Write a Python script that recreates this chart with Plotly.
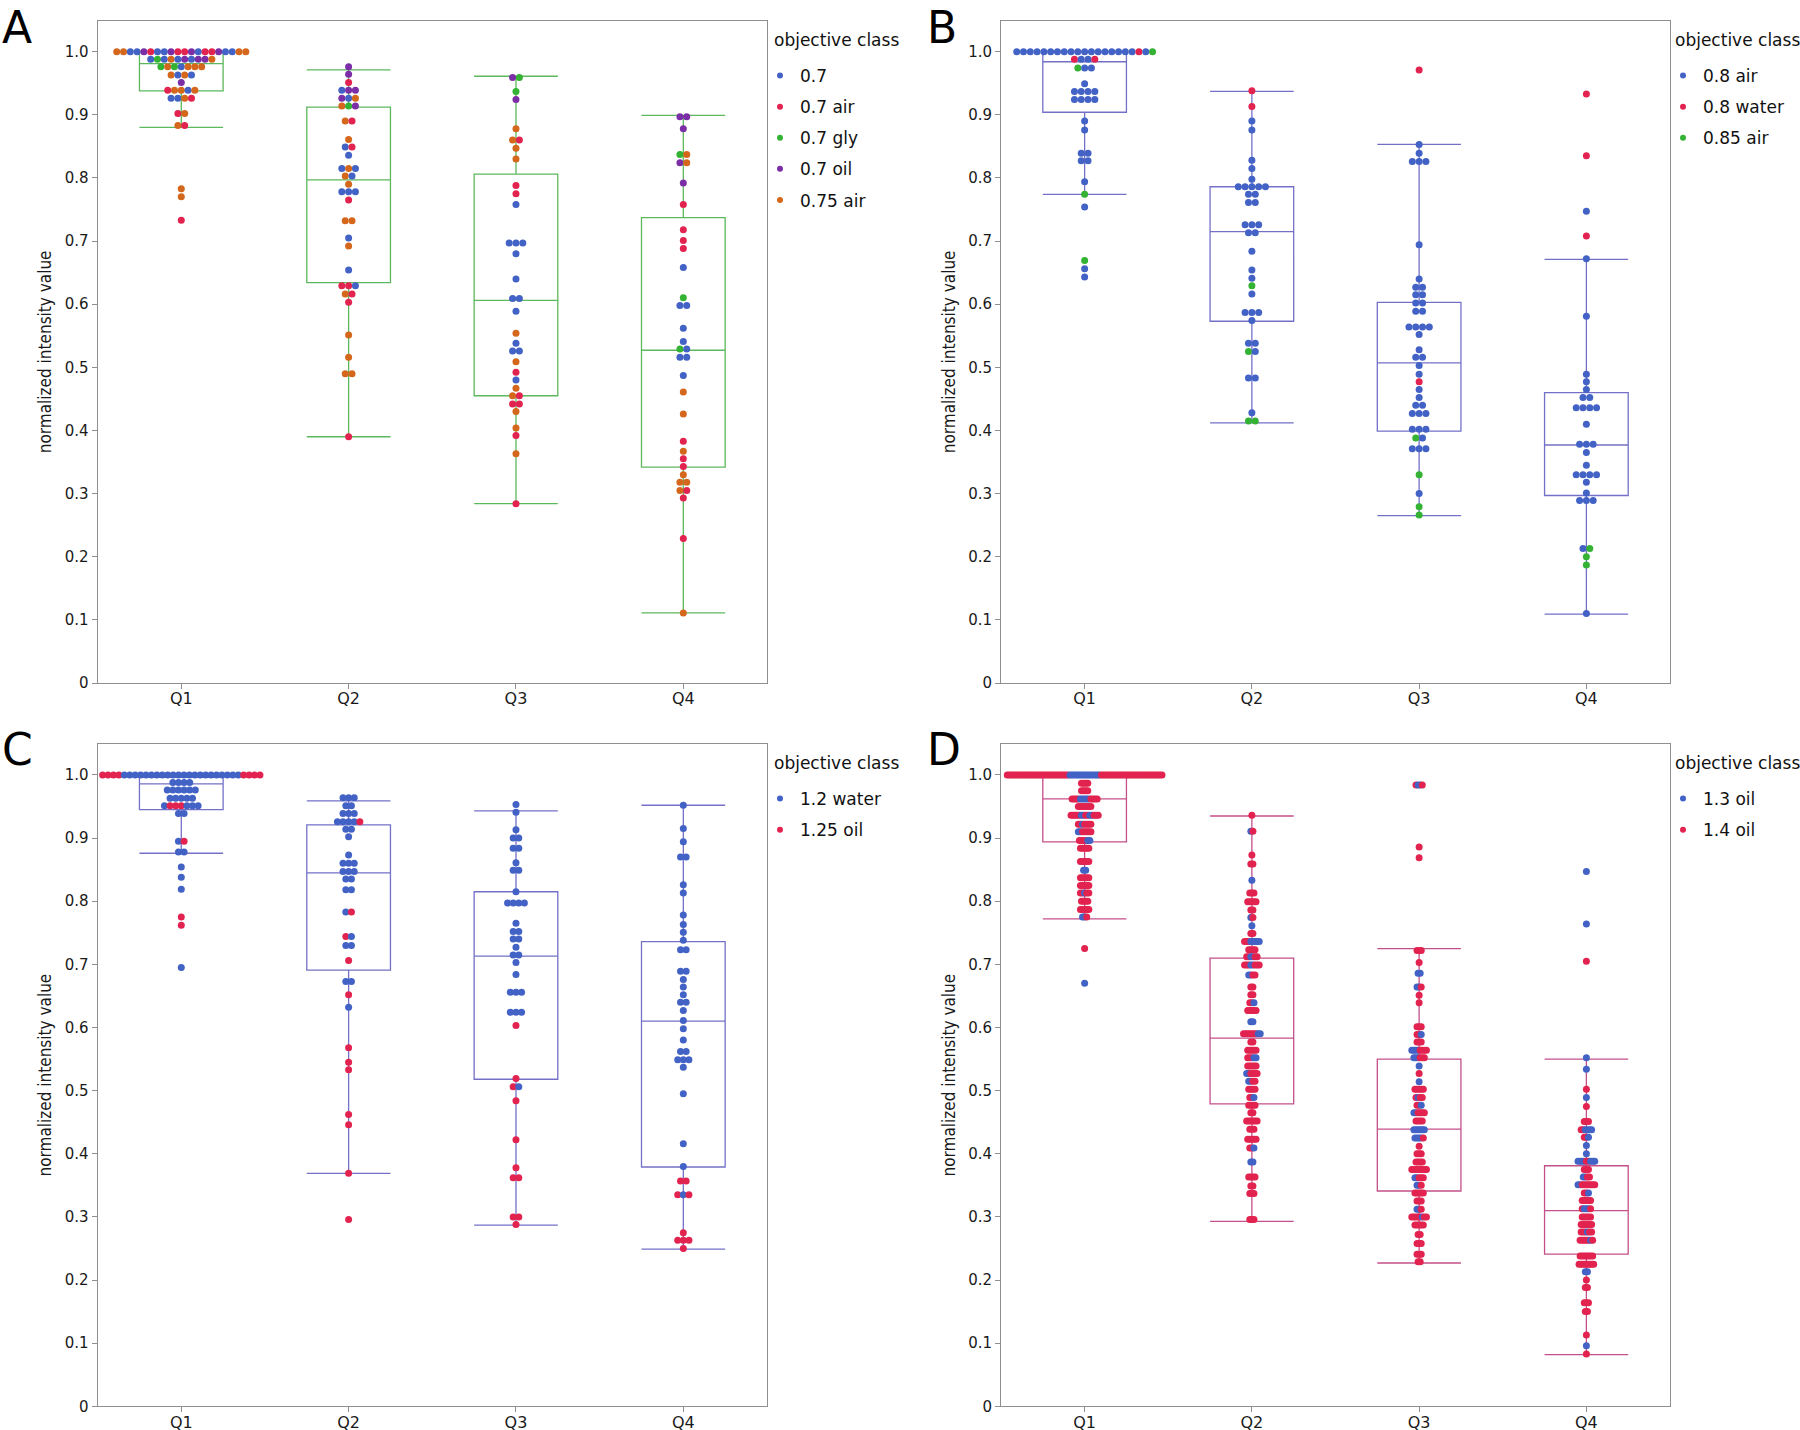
import plotly.graph_objects as go

# ---------------- data ----------------
QUARTILES = ["Q1", "Q2", "Q3", "Q4"]
Y_TICKS = [0.0, 0.1, 0.2, 0.3, 0.4, 0.5, 0.6, 0.7, 0.8, 0.9, 1.0]
Y_TICK_TEXT = ["0", "0.1", "0.2", "0.3", "0.4", "0.5", "0.6", "0.7", "0.8", "0.9", "1.0"]

COLORS = {"B": "#4262c5", "R": "#e2234f", "G": "#33b233", "P": "#7c2ea6", "O": "#d4671c"}

A_CLASSES = [("B", "0.7"), ("R", "0.7 air"), ("G", "0.7 gly"), ("P", "0.7 oil"), ("O", "0.75 air")]
B_CLASSES = [("B", "0.8 air"), ("R", "0.8 water"), ("G", "0.85 air")]
C_CLASSES = [("B", "1.2 water"), ("R", "1.25 oil")]
D_CLASSES = [("B", "1.3 oil"), ("R", "1.4 oil")]

# rows: (value, class codes of the dots sharing that value)
A_Q1_ROWS = [(1.000, "OOBBPRBBPRRPBRRPBBOO"), (0.988, "BGBOBPBPPO"), (0.976, "GOGBOOO"),
             (0.963, "OBOB"), (0.951, "P"), (0.939, "ROOBO"), (0.926, "BBOR"), (0.902, "RO"),
             (0.883, "OR"), (0.783, "O"), (0.770, "O"), (0.733, "R")]
A_Q2_ROWS = [(0.976, "P"), (0.964, "P"), (0.951, "R"), (0.939, "BPP"), (0.926, "PBO"), (0.914, "OGP"),
             (0.890, "OR"), (0.861, "O"), (0.849, "BR"), (0.836, "B"), (0.815, "BOB"), (0.803, "OB"),
             (0.790, "O"), (0.778, "BBB"), (0.765, "R"), (0.732, "OO"), (0.705, "B"), (0.692, "O"),
             (0.654, "B"), (0.629, "RRB"), (0.616, "OR"), (0.603, "R"), (0.551, "O"), (0.516, "O"),
             (0.490, "OO"), (0.390, "R")]
A_Q3_ROWS = [(0.959, "PG"), (0.937, "G"), (0.924, "P"), (0.878, "O"), (0.860, "OR"), (0.847, "O"),
             (0.830, "O"), (0.788, "R"), (0.775, "R"), (0.758, "B"), (0.697, "BBB"), (0.680, "B"),
             (0.640, "B"), (0.609, "BB"), (0.589, "B"), (0.554, "O"), (0.538, "B"), (0.526, "BB"),
             (0.509, "O"), (0.492, "R"), (0.480, "B"), (0.467, "O"), (0.455, "OR"), (0.442, "RR"),
             (0.430, "O"), (0.404, "O"), (0.392, "R"), (0.363, "O"), (0.284, "R")]
A_Q4_ROWS = [(0.897, "PP"), (0.878, "P"), (0.837, "GO"), (0.824, "PO"), (0.792, "P"), (0.758, "R"),
             (0.718, "R"), (0.701, "R"), (0.688, "R"), (0.658, "B"), (0.610, "G"), (0.598, "BB"),
             (0.562, "B"), (0.541, "B"), (0.529, "GB"), (0.516, "BB"), (0.487, "B"), (0.461, "O"),
             (0.426, "O"), (0.383, "R"), (0.367, "O"), (0.355, "R"), (0.343, "R"), (0.330, "O"),
             (0.318, "OO"), (0.305, "OR"), (0.293, "R"), (0.229, "R"), (0.111, "O")]
A_BOX_LO = [0.880, 0.390, 0.284, 0.111]
A_BOX_Q1 = [0.938, 0.634, 0.455, 0.342]
A_BOX_MED = [0.981, 0.797, 0.606, 0.527]
A_BOX_Q3 = [1.000, 0.912, 0.806, 0.737]
A_BOX_HI = [1.000, 0.971, 0.961, 0.899]

B_Q1_ROWS = [(1.000, "BBBBBBBBBBBBBBBBBBRBG"), (0.988, "RBBR"), (0.974, "GBB"), (0.949, "B"),
             (0.937, "BBBB"), (0.924, "BBBB"), (0.890, "B"), (0.876, "B"), (0.839, "BB"),
             (0.827, "BB"), (0.794, "B"), (0.774, "G"), (0.754, "B"), (0.669, "G"), (0.656, "B"),
             (0.643, "B")]
B_Q2_ROWS = [(0.938, "R"), (0.913, "R"), (0.890, "B"), (0.876, "B"), (0.828, "B"), (0.815, "B"),
             (0.798, "B"), (0.786, "BBBBB"), (0.774, "BB"), (0.761, "BB"), (0.726, "BBB"), (0.713, "BB"),
             (0.684, "B"), (0.654, "B"), (0.641, "B"), (0.629, "G"), (0.616, "B"), (0.587, "BBB"),
             (0.574, "B"), (0.538, "BB"), (0.525, "GB"), (0.483, "BB"), (0.428, "B"), (0.415, "GG")]
B_Q3_ROWS = [(0.971, "R"), (0.853, "B"), (0.839, "B"), (0.826, "BBB"), (0.694, "B"), (0.640, "B"),
             (0.627, "BB"), (0.615, "BB"), (0.602, "BB"), (0.589, "BB"), (0.564, "BBBB"), (0.552, "B"),
             (0.528, "B"), (0.516, "BB"), (0.503, "B"), (0.489, "B"), (0.477, "R"), (0.465, "B"),
             (0.452, "B"), (0.440, "BB"), (0.427, "BBB"), (0.402, "BBB"), (0.388, "GB"), (0.371, "BBB"),
             (0.330, "G"), (0.300, "B"), (0.279, "G"), (0.266, "G")]
B_Q4_ROWS = [(0.933, "R"), (0.835, "R"), (0.747, "B"), (0.708, "R"), (0.672, "B"), (0.581, "B"),
             (0.489, "B"), (0.477, "B"), (0.465, "B"), (0.452, "BB"), (0.436, "BBBB"), (0.410, "B"),
             (0.378, "BBB"), (0.365, "B"), (0.345, "B"), (0.330, "BBBB"), (0.318, "B"), (0.301, "B"),
             (0.289, "BBB"), (0.213, "BG"), (0.200, "G"), (0.187, "G"), (0.110, "B")]
B_BOX_LO = [0.774, 0.412, 0.265, 0.109]
B_BOX_Q1 = [0.904, 0.573, 0.399, 0.297]
B_BOX_MED = [0.984, 0.715, 0.507, 0.377]
B_BOX_Q3 = [1.000, 0.786, 0.603, 0.460]
B_BOX_HI = [1.000, 0.937, 0.853, 0.671]

C_Q1_ROWS = [(1.000, "RRRRBBBBBBBBBBBBBBBBBBBBBBRRRR"), (0.988, "BBBB"), (0.976, "BBBBBB"),
             (0.963, "BBBBB"), (0.951, "BRRRBBB"), (0.939, "BB"), (0.895, "BR"), (0.878, "BB"),
             (0.854, "B"), (0.838, "B"), (0.819, "B"), (0.775, "R"), (0.762, "R"), (0.695, "B")]
C_Q2_ROWS = [(0.964, "BBB"), (0.951, "BB"), (0.939, "BBB"), (0.926, "BBBBR"), (0.914, "BB"),
             (0.902, "B"), (0.873, "B"), (0.860, "BBB"), (0.847, "BBB"), (0.835, "BB"), (0.818, "BB"),
             (0.783, "BR"), (0.744, "RB"), (0.730, "BB"), (0.706, "R"), (0.673, "BB"), (0.652, "R"),
             (0.632, "B"), (0.568, "R"), (0.545, "R"), (0.533, "R"), (0.462, "R"), (0.446, "R"),
             (0.369, "R"), (0.296, "R")]
C_Q3_ROWS = [(0.953, "B"), (0.941, "B"), (0.913, "B"), (0.900, "BB"), (0.884, "BB"), (0.861, "B"),
             (0.849, "BB"), (0.815, "B"), (0.797, "BBBB"), (0.765, "B"), (0.752, "BB"), (0.740, "BB"),
             (0.727, "B"), (0.715, "BB"), (0.703, "B"), (0.684, "B"), (0.656, "BBB"), (0.624, "BBB"),
             (0.603, "R"), (0.519, "R"), (0.506, "RB"), (0.484, "R"), (0.422, "R"), (0.378, "R"),
             (0.362, "RR"), (0.300, "RR"), (0.288, "R")]
C_Q4_ROWS = [(0.952, "B"), (0.915, "B"), (0.894, "B"), (0.870, "BB"), (0.826, "B"), (0.813, "B"),
             (0.778, "B"), (0.763, "B"), (0.751, "B"), (0.738, "B"), (0.723, "BB"), (0.689, "BB"),
             (0.676, "B"), (0.664, "B"), (0.652, "B"), (0.640, "BB"), (0.627, "B"), (0.611, "B"),
             (0.598, "B"), (0.580, "B"), (0.562, "BB"), (0.549, "BBB"), (0.537, "B"), (0.495, "B"),
             (0.416, "B"), (0.380, "B"), (0.357, "RR"), (0.335, "RBR"), (0.275, "R"), (0.263, "RRR"),
             (0.250, "R")]
C_BOX_LO = [0.876, 0.369, 0.287, 0.249]
C_BOX_Q1 = [0.945, 0.691, 0.518, 0.379]
C_BOX_MED = [0.986, 0.845, 0.713, 0.610]
C_BOX_Q3 = [0.996, 0.921, 0.815, 0.736]
C_BOX_HI = [1.000, 0.959, 0.943, 0.952]

D_Q1_ROWS = [(1.000, "RRRRRRRRRRRRRRRRRRRRRRRRRRRRRRBBBBBBBBBBBBBBBRRRRRRRRRRRRRRRRRRRRRRRRRRRRRR"),
             (0.987, "RRRR"), (0.975, "RRRR"), (0.962, "RRRRBBBBBRRRR"), (0.950, "RRRRRRR"),
             (0.936, "RRRRRBBRRBBRRR"), (0.922, "RRBRRRR"), (0.910, "BBRRRRR"), (0.896, "RRRRBB"),
             (0.884, "RRRRR"), (0.863, "RRRRR"), (0.849, "BB"), (0.837, "RRRRR"), (0.825, "RRRRR"),
             (0.813, "RRBRR"), (0.800, "RRRR"), (0.787, "RRRRR"), (0.775, "BBR"), (0.725, "R"),
             (0.670, "B")]
D_Q2_ROWS = [(0.936, "R"), (0.911, "BR"), (0.873, "R"), (0.859, "RR"), (0.833, "B"), (0.813, "RRR"),
             (0.799, "RRRRR"), (0.786, "RR"), (0.774, "BR"), (0.761, "B"), (0.749, "RR"),
             (0.736, "RRRBBBBB"), (0.723, "RRRR"), (0.712, "RRBBRR"), (0.699, "RRRBBRRR"),
             (0.683, "BBRR"), (0.664, "RR"), (0.652, "RR"), (0.639, "RRB"), (0.627, "RRRRR"),
             (0.609, "BB"), (0.590, "RRRRRRRBB"), (0.577, "RR"), (0.564, "RRRRR"), (0.552, "RRRBB"),
             (0.539, "RRRRR"), (0.527, "BBRRRR"), (0.515, "BBRR"), (0.502, "RRRR"), (0.489, "RRB"),
             (0.477, "RRRR"), (0.465, "RR"), (0.452, "RRRRRR"), (0.439, "RRR"), (0.423, "RRRRR"),
             (0.409, "RRB"), (0.387, "BB"), (0.363, "RRRR"), (0.349, "RR"), (0.337, "RRR"),
             (0.296, "RRR")]
D_Q3_ROWS = [(0.984, "RBBR"), (0.886, "R"), (0.869, "R"), (0.722, "RRR"), (0.703, "R"), (0.686, "BB"),
             (0.664, "BBR"), (0.651, "R"), (0.639, "R"), (0.601, "RRR"), (0.589, "RRB"), (0.577, "RRR"),
             (0.564, "BBBBRRRR"), (0.552, "BBBRRR"), (0.539, "B"), (0.527, "R"), (0.514, "B"),
             (0.502, "RRRRR"), (0.489, "RBRR"), (0.477, "RRB"), (0.465, "BBRRRR"), (0.452, "RRRR"),
             (0.438, "BBBBBB"), (0.425, "BBBBR"), (0.412, "R"), (0.400, "RRR"), (0.387, "RRRR"),
             (0.375, "RRRRRRRR"), (0.362, "BBRRR"), (0.350, "BBR"), (0.338, "RRRRR"), (0.325, "RRR"),
             (0.312, "BBR"), (0.300, "RRRRRBRR"), (0.287, "RRRRR"), (0.272, "RR"), (0.258, "RRR"),
             (0.241, "RRR"), (0.229, "RR")]
D_Q4_ROWS = [(0.847, "B"), (0.764, "B"), (0.705, "R"), (0.552, "B"), (0.534, "B"), (0.502, "R"),
             (0.489, "B"), (0.475, "R"), (0.451, "RRR"), (0.438, "RRBBBB"), (0.426, "RRB"), (0.413, "B"),
             (0.400, "B"), (0.388, "BBBBRRBBB"), (0.375, "RRR"), (0.363, "BBRR"), (0.351, "BBRRRRRRR"),
             (0.338, "RRB"), (0.326, "RRRRR"), (0.313, "RBBBR"), (0.300, "RRRRR"), (0.288, "RRRRRR"),
             (0.276, "RRRBRR"), (0.263, "RRRRRBR"), (0.238, "RRRRRRR"), (0.225, "RRRRRRRR"),
             (0.213, "BB"), (0.200, "R"), (0.188, "RR"), (0.164, "RRR"), (0.150, "RR"), (0.113, "R"),
             (0.096, "B"), (0.083, "R")]
D_BOX_LO = [0.772, 0.293, 0.227, 0.082]
D_BOX_Q1 = [0.894, 0.479, 0.341, 0.241]
D_BOX_MED = [0.962, 0.583, 0.439, 0.310]
D_BOX_Q3 = [1.000, 0.710, 0.550, 0.381]
D_BOX_HI = [1.000, 0.935, 0.725, 0.550]

# ---------------- styling ----------------
W, H = 1800, 1430
GRAY = "#8f8f8f"
TICK_FONT = dict(family="DejaVu Sans", size=15, color="#1a1a1a")
TITLE_FONT = dict(family="DejaVu Sans Condensed, Liberation Sans Narrow, DejaVu Sans", size=17, color="#1a1a1a")
LEGEND_FONT = dict(family="DejaVu Sans", size=17, color="#111111")
MARKER_SIZE = 7
MAX_HALF = 0.47


def px_x(p):
    return p / W


def px_y(p):
    return 1 - p / H


PANELS = [
    dict(letter="A", rows=[A_Q1_ROWS, A_Q2_ROWS, A_Q3_ROWS, A_Q4_ROWS],
         box=(A_BOX_LO, A_BOX_Q1, A_BOX_MED, A_BOX_Q3, A_BOX_HI), box_color="#5cb85c",
         classes=A_CLASSES, spacing=0.0406,
         xd=[px_x(97.6), px_x(767)], yd=[px_y(683), px_y(20.7)],
         leg=(px_x(760), px_y(58)), ltitle=(px_x(772), px_y(40)), let=(px_x(0), px_y(0))),
    dict(letter="B", rows=[B_Q1_ROWS, B_Q2_ROWS, B_Q3_ROWS, B_Q4_ROWS],
         box=(B_BOX_LO, B_BOX_Q1, B_BOX_MED, B_BOX_Q3, B_BOX_HI), box_color="#7470c8",
         classes=B_CLASSES, spacing=0.0406,
         xd=[px_x(1001), px_x(1670)], yd=[px_y(683), px_y(20.7)],
         leg=(px_x(1663), px_y(58)), ltitle=(px_x(1673), px_y(40)), let=(px_x(925), px_y(0))),
    dict(letter="C", rows=[C_Q1_ROWS, C_Q2_ROWS, C_Q3_ROWS, C_Q4_ROWS],
         box=(C_BOX_LO, C_BOX_Q1, C_BOX_MED, C_BOX_Q3, C_BOX_HI), box_color="#7470c8",
         classes=C_CLASSES, spacing=0.0335,
         xd=[px_x(97.6), px_x(767)], yd=[px_y(1406.3), px_y(744)],
         leg=(px_x(760), px_y(781)), ltitle=(px_x(772), px_y(763)), let=(px_x(0), px_y(722))),
    dict(letter="D", rows=[D_Q1_ROWS, D_Q2_ROWS, D_Q3_ROWS, D_Q4_ROWS],
         box=(D_BOX_LO, D_BOX_Q1, D_BOX_MED, D_BOX_Q3, D_BOX_HI), box_color="#c4508a",
         classes=D_CLASSES, spacing=0.0125,
         xd=[px_x(1001), px_x(1670)], yd=[px_y(1406.3), px_y(744)],
         leg=(px_x(1663), px_y(781)), ltitle=(px_x(1673), px_y(763)), let=(px_x(925), px_y(722))),
]


def swarm(rows_per_cat, spacing):
    xs, ys, cs = [], [], []
    for ci, rows in enumerate(rows_per_cat):
        for value, codes in rows:
            n = len(codes)
            s = spacing if n == 1 else min(spacing, 2 * MAX_HALF / (n - 1))
            for k, code in enumerate(codes):
                xs.append(ci + (k - (n - 1) / 2) * s)
                ys.append(value)
                cs.append(COLORS[code])
    return xs, ys, cs


fig = go.Figure()
layout = dict(width=W, height=H, margin=dict(l=0, r=0, t=0, b=0, autoexpand=False),
              paper_bgcolor="white", plot_bgcolor="white", showlegend=True,
              annotations=[])

for i, p in enumerate(PANELS):
    sfx = "" if i == 0 else str(i + 1)
    xa, ya = "x" + sfx, "y" + sfx
    leg = "legend" + sfx
    lo, q1, med, q3, hi = p["box"]
    fig.add_trace(go.Box(
        x=[0, 1, 2, 3], q1=q1, median=med, q3=q3, lowerfence=lo, upperfence=hi,
        width=0.5, whiskerwidth=1, boxpoints=False,
        line=dict(color=p["box_color"], width=1.3), fillcolor="rgba(0,0,0,0)",
        showlegend=False, hoverinfo="skip", xaxis=xa, yaxis=ya))
    xs, ys, cs = swarm(p["rows"], p["spacing"])
    fig.add_trace(go.Scatter(
        x=xs, y=ys, mode="markers", showlegend=False, hoverinfo="skip",
        marker=dict(size=MARKER_SIZE, color=cs, line=dict(width=0)),
        xaxis=xa, yaxis=ya))
    for code, label in p["classes"]:
        fig.add_trace(go.Scatter(
            x=[None], y=[None], mode="markers", name=label,
            marker=dict(size=6, color=COLORS[code]),
            legend=leg, legendgroup=p["letter"] + code, showlegend=True,
            xaxis=xa, yaxis=ya))

    layout["xaxis" + sfx] = dict(
        domain=p["xd"], anchor=ya, range=[-0.5, 3.5], tickvals=[0, 1, 2, 3], ticktext=QUARTILES,
        ticks="outside", ticklen=5, tickcolor=GRAY, linecolor=GRAY, linewidth=1, mirror=True,
        showgrid=False, zeroline=False, automargin=False, ticklabelstandoff=-4,
        tickfont=dict(family="DejaVu Sans", size=16, color="#1a1a1a"),
        fixedrange=True)
    layout["yaxis" + sfx] = dict(
        domain=p["yd"], anchor=xa, range=[0, 1.049], tickvals=Y_TICKS, ticktext=Y_TICK_TEXT,
        ticks="outside", ticklen=5, tickcolor=GRAY, linecolor=GRAY, linewidth=1, mirror=True,
        showgrid=False, zeroline=False, automargin=False, tickfont=TICK_FONT,
        title=dict(text="normalized intensity value", font=TITLE_FONT, standoff=8),
        fixedrange=True)
    layout[leg] = dict(
        x=p["leg"][0], y=p["leg"][1], xanchor="left", yanchor="top",
        font=LEGEND_FONT, bgcolor="rgba(0,0,0,0)", borderwidth=0, itemwidth=30,
        tracegroupgap=6, traceorder="grouped")
    layout["annotations"].append(dict(
        text="objective class", x=p["ltitle"][0], y=p["ltitle"][1], xref="paper", yref="paper",
        xanchor="left", yanchor="middle", showarrow=False, font=LEGEND_FONT))
    layout["annotations"].append(dict(
        text=p["letter"], x=p["let"][0], y=p["let"][1], xref="paper", yref="paper",
        xanchor="left", yanchor="top", showarrow=False,
        font=dict(family="DejaVu Sans", size=44, color="#000000")))

fig.update_layout(**layout)
fig.write_html("out.html", config={"displayModeBar": False},
               post_script="document.body.style.margin='0px';document.body.style.overflow='hidden';")
